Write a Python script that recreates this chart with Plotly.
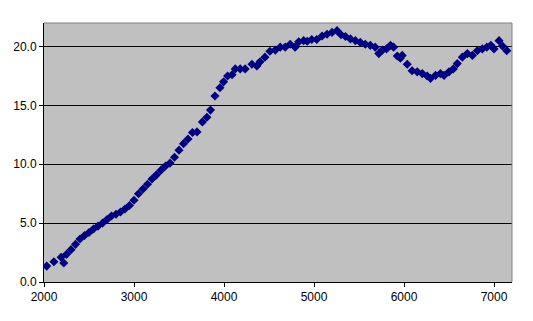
import plotly.graph_objects as go

x_vals = [2030, 2110, 2190, 2220, 2250, 2300, 2350, 2400, 2450, 2500, 2550, 2600, 2650,
          2700, 2750, 2800, 2850, 2900, 2950, 3000, 3050, 3100, 3150, 3200, 3250, 3300,
          3350, 3400, 3450, 3500, 3550, 3600, 3650, 3700, 3760, 3810, 3850, 3900, 3955,
          3995, 4040, 4090, 4125, 4180, 4235, 4310, 4365, 4400, 4455, 4510, 4570, 4625,
          4680, 4735, 4790, 4830, 4885, 4925, 4975, 5030, 5090, 5145, 5200, 5256, 5300,
          5350, 5405, 5460, 5515, 5570, 5625, 5680, 5720, 5760, 5805, 5850, 5885, 5925,
          5960, 5980, 6036, 6090, 6147, 6203, 6258, 6295, 6350, 6405, 6445, 6500, 6548,
          6592, 6648, 6704, 6760, 6815, 6870, 6920, 6965, 7000, 7056, 7094, 7142]
y_vals = [1.35, 1.72, 2.1, 1.62, 2.35, 2.75, 3.2, 3.65, 3.95, 4.2, 4.5, 4.75, 5.0,
          5.3, 5.6, 5.75, 5.95, 6.2, 6.5, 6.95, 7.5, 7.9, 8.3, 8.75, 9.1, 9.5,
          9.85, 10.1, 10.6, 11.2, 11.75, 12.15, 12.7, 12.75, 13.6, 14.0, 14.6, 15.8, 16.5,
          17.0, 17.5, 17.6, 18.1, 18.1, 18.1, 18.5, 18.35, 18.7, 19.1, 19.6, 19.7, 19.95,
          19.95, 20.2, 19.95, 20.4, 20.5, 20.45, 20.6, 20.6, 20.9, 21.05, 21.2, 21.35, 21.0,
          20.85, 20.65, 20.5, 20.35, 20.2, 20.1, 19.95, 19.4, 19.7, 19.8, 20.1, 19.95, 19.2,
          19.0, 19.25, 18.5, 17.95, 17.85, 17.7, 17.5, 17.3, 17.55, 17.7, 17.55, 17.85, 18.1,
          18.55, 19.1, 19.4, 19.25, 19.65, 19.8, 19.95, 20.1, 19.8, 20.5, 20.05, 19.65]

x_ticks = [2000, 3000, 4000, 5000, 6000, 7000]
y_ticks = [0, 5, 10, 15, 20]

fig = go.Figure()
fig.add_trace(go.Scatter(
    x=x_vals, y=y_vals, mode="markers",
    marker=dict(symbol="diamond", size=7, color="#000080", line=dict(width=0)),
    showlegend=False,
))

font = dict(family="Liberation Sans, Arial, sans-serif", size=12, color="black")

fig.update_layout(
    width=533, height=321,
    margin=dict(l=44, r=21, t=23, b=39),
    paper_bgcolor="white", plot_bgcolor="#C0C0C0",
    font=font,
    xaxis=dict(range=[2000, 7200], tickvals=x_ticks, ticktext=[str(v) for v in x_ticks],
               showgrid=False, zeroline=False, showline=True, linecolor="black",
               linewidth=1, ticks="outside", ticklen=4, tickcolor="black",
               tickfont=font),
    yaxis=dict(range=[0, 22], tickvals=y_ticks, ticktext=[f"{v:.1f}" for v in y_ticks],
               showgrid=True, gridcolor="black", gridwidth=1, zeroline=False,
               showline=True, linecolor="black", linewidth=1, ticks="outside",
               ticklen=4, tickcolor="black", tickfont=font),
    shapes=[
        dict(type="line", xref="paper", yref="paper", x0=0, x1=1, y0=1, y1=1,
             line=dict(color="#808080", width=1)),
        dict(type="line", xref="paper", yref="paper", x0=1, x1=1, y0=0, y1=1,
             line=dict(color="#808080", width=1)),
    ],
)

fig.write_html("out.html")
